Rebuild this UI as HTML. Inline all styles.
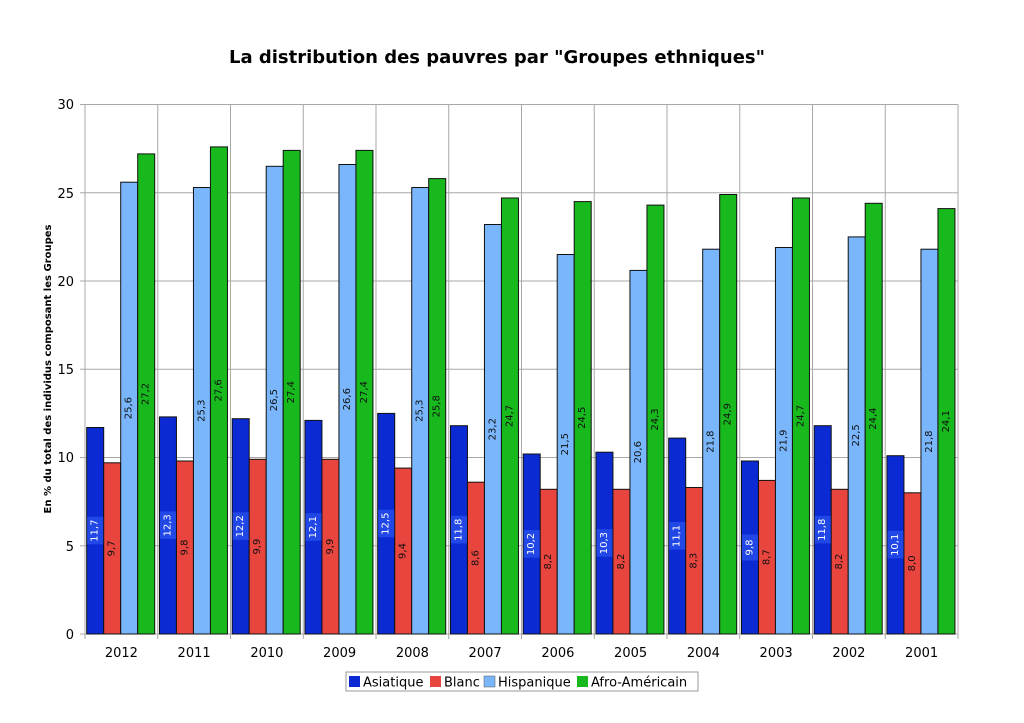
<!DOCTYPE html>
<html><head><meta charset="utf-8"><style>
html,body{margin:0;padding:0;background:#fff;}
svg{display:block;font-family:"DejaVu Sans","Liberation Sans",sans-serif;}
.l{font-size:10px;text-anchor:middle;dominant-baseline:central;}
.w{fill:#fff}
.bk{fill:#111}
.bl{fill:#0b2ad4;stroke:#111;stroke-width:1}
.rd{fill:#e8453f;stroke:#111;stroke-width:1}
.lb{fill:#79b6fb;stroke:#111;stroke-width:1}
.gr{fill:#17b91c;stroke:#111;stroke-width:1}
.lbg{fill:#2148e6}
</style></head><body>
<svg width="1024" height="723" viewBox="0 0 1024 723">
<text x="497" y="63" font-size="18" font-weight="bold" text-anchor="middle" fill="#000">La distribution des pauvres par "Groupes ethniques"</text>
<g stroke="#a8a8a8" stroke-width="1">
<line x1="85" y1="545.75" x2="958" y2="545.75"/><line x1="85" y1="457.5" x2="958" y2="457.5"/><line x1="85" y1="369.25" x2="958" y2="369.25"/><line x1="85" y1="281" x2="958" y2="281"/><line x1="85" y1="192.75" x2="958" y2="192.75"/><line x1="85" y1="104.5" x2="958" y2="104.5"/>
<line x1="157.75" y1="104.5" x2="157.75" y2="634"/><line x1="230.5" y1="104.5" x2="230.5" y2="634"/><line x1="303.25" y1="104.5" x2="303.25" y2="634"/><line x1="376" y1="104.5" x2="376" y2="634"/><line x1="448.75" y1="104.5" x2="448.75" y2="634"/><line x1="521.5" y1="104.5" x2="521.5" y2="634"/><line x1="594.25" y1="104.5" x2="594.25" y2="634"/><line x1="667" y1="104.5" x2="667" y2="634"/><line x1="739.75" y1="104.5" x2="739.75" y2="634"/><line x1="812.5" y1="104.5" x2="812.5" y2="634"/><line x1="885.25" y1="104.5" x2="885.25" y2="634"/><line x1="958" y1="104.5" x2="958" y2="634"/>
<line x1="85" y1="104.5" x2="85" y2="634"/>
<line x1="80" y1="634" x2="958" y2="634"/><line x1="80" y1="545.75" x2="85" y2="545.75"/><line x1="80" y1="457.5" x2="85" y2="457.5"/><line x1="80" y1="369.25" x2="85" y2="369.25"/><line x1="80" y1="281" x2="85" y2="281"/><line x1="80" y1="192.75" x2="85" y2="192.75"/><line x1="80" y1="104.5" x2="85" y2="104.5"/>
<line x1="85" y1="634" x2="85" y2="639"/><line x1="157.75" y1="634" x2="157.75" y2="639"/><line x1="230.5" y1="634" x2="230.5" y2="639"/><line x1="303.25" y1="634" x2="303.25" y2="639"/><line x1="376" y1="634" x2="376" y2="639"/><line x1="448.75" y1="634" x2="448.75" y2="639"/><line x1="521.5" y1="634" x2="521.5" y2="639"/><line x1="594.25" y1="634" x2="594.25" y2="639"/><line x1="667" y1="634" x2="667" y2="639"/><line x1="739.75" y1="634" x2="739.75" y2="639"/><line x1="812.5" y1="634" x2="812.5" y2="639"/><line x1="885.25" y1="634" x2="885.25" y2="639"/><line x1="958" y1="634" x2="958" y2="639"/>
</g>
<g font-size="13" text-anchor="end" fill="#000">
<text x="74" y="639">0</text><text x="74" y="551">5</text><text x="74" y="462">10</text><text x="74" y="374">15</text><text x="74" y="286">20</text><text x="74" y="198">25</text><text x="74" y="109">30</text>
</g>
<text transform="translate(51,369) rotate(-90)" font-size="10" font-weight="bold" text-anchor="middle" fill="#000">En % du total des individus composant les Groupes</text>
<g font-size="13" text-anchor="middle" fill="#000">
<text x="121.4" y="657">2012</text><text x="194.1" y="657">2011</text><text x="266.9" y="657">2010</text><text x="339.6" y="657">2009</text><text x="412.4" y="657">2008</text><text x="485.1" y="657">2007</text><text x="557.9" y="657">2006</text><text x="630.6" y="657">2005</text><text x="703.4" y="657">2004</text><text x="776.1" y="657">2003</text><text x="848.9" y="657">2002</text><text x="921.6" y="657">2001</text>
</g>

<g transform="translate(86.7,634)">
<rect class="bl" x="0" y="-206.5" width="17" height="206.5"/><rect class="rd" x="17" y="-171.2" width="17" height="171.2"/><rect class="lb" x="34" y="-451.8" width="17" height="451.8"/><rect class="gr" x="51" y="-480.1" width="17" height="480.1"/>
<rect class="lbg" x="0.5" y="-117.3" width="16" height="27.6"/>
<text class="l w" transform="translate(8.5,-103.3) rotate(-90)">11,7</text><text class="l bk" transform="translate(25.5,-85.6) rotate(-90)">9,7</text><text class="l bk" transform="translate(42.5,-225.9) rotate(-90)">25,6</text><text class="l bk" transform="translate(59.5,-240) rotate(-90)">27,2</text>
</g>
<g transform="translate(159.45,634)">
<rect class="bl" x="0" y="-217.1" width="17" height="217.1"/><rect class="rd" x="17" y="-173" width="17" height="173"/><rect class="lb" x="34" y="-446.5" width="17" height="446.5"/><rect class="gr" x="51" y="-487.1" width="17" height="487.1"/>
<rect class="lbg" x="0.5" y="-122.6" width="16" height="27.6"/>
<text class="l w" transform="translate(8.5,-108.6) rotate(-90)">12,3</text><text class="l bk" transform="translate(25.5,-86.5) rotate(-90)">9,8</text><text class="l bk" transform="translate(42.5,-223.3) rotate(-90)">25,3</text><text class="l bk" transform="translate(59.5,-243.6) rotate(-90)">27,6</text>
</g>
<g transform="translate(232.2,634)">
<rect class="bl" x="0" y="-215.3" width="17" height="215.3"/><rect class="rd" x="17" y="-174.7" width="17" height="174.7"/><rect class="lb" x="34" y="-467.7" width="17" height="467.7"/><rect class="gr" x="51" y="-483.6" width="17" height="483.6"/>
<rect class="lbg" x="0.5" y="-121.7" width="16" height="27.6"/>
<text class="l w" transform="translate(8.5,-107.7) rotate(-90)">12,2</text><text class="l bk" transform="translate(25.5,-87.4) rotate(-90)">9,9</text><text class="l bk" transform="translate(42.5,-233.9) rotate(-90)">26,5</text><text class="l bk" transform="translate(59.5,-241.8) rotate(-90)">27,4</text>
</g>
<g transform="translate(304.95,634)">
<rect class="bl" x="0" y="-213.6" width="17" height="213.6"/><rect class="rd" x="17" y="-174.7" width="17" height="174.7"/><rect class="lb" x="34" y="-469.5" width="17" height="469.5"/><rect class="gr" x="51" y="-483.6" width="17" height="483.6"/>
<rect class="lbg" x="0.5" y="-120.8" width="16" height="27.6"/>
<text class="l w" transform="translate(8.5,-106.8) rotate(-90)">12,1</text><text class="l bk" transform="translate(25.5,-87.4) rotate(-90)">9,9</text><text class="l bk" transform="translate(42.5,-234.8) rotate(-90)">26,6</text><text class="l bk" transform="translate(59.5,-241.8) rotate(-90)">27,4</text>
</g>
<g transform="translate(377.7,634)">
<rect class="bl" x="0" y="-220.6" width="17" height="220.6"/><rect class="rd" x="17" y="-165.9" width="17" height="165.9"/><rect class="lb" x="34" y="-446.5" width="17" height="446.5"/><rect class="gr" x="51" y="-455.4" width="17" height="455.4"/>
<rect class="lbg" x="0.5" y="-124.3" width="16" height="27.6"/>
<text class="l w" transform="translate(8.5,-110.3) rotate(-90)">12,5</text><text class="l bk" transform="translate(25.5,-83) rotate(-90)">9,4</text><text class="l bk" transform="translate(42.5,-223.3) rotate(-90)">25,3</text><text class="l bk" transform="translate(59.5,-227.7) rotate(-90)">25,8</text>
</g>
<g transform="translate(450.45,634)">
<rect class="bl" x="0" y="-208.3" width="17" height="208.3"/><rect class="rd" x="17" y="-151.8" width="17" height="151.8"/><rect class="lb" x="34" y="-409.5" width="17" height="409.5"/><rect class="gr" x="51" y="-436" width="17" height="436"/>
<rect class="lbg" x="0.5" y="-118.2" width="16" height="27.6"/>
<text class="l w" transform="translate(8.5,-104.2) rotate(-90)">11,8</text><text class="l bk" transform="translate(25.5,-75.9) rotate(-90)">8,6</text><text class="l bk" transform="translate(42.5,-204.8) rotate(-90)">23,2</text><text class="l bk" transform="translate(59.5,-218) rotate(-90)">24,7</text>
</g>
<g transform="translate(523.2,634)">
<rect class="bl" x="0" y="-180" width="17" height="180"/><rect class="rd" x="17" y="-144.7" width="17" height="144.7"/><rect class="lb" x="34" y="-379.5" width="17" height="379.5"/><rect class="gr" x="51" y="-432.4" width="17" height="432.4"/>
<rect class="lbg" x="0.5" y="-104" width="16" height="27.6"/>
<text class="l w" transform="translate(8.5,-90) rotate(-90)">10,2</text><text class="l bk" transform="translate(25.5,-72.4) rotate(-90)">8,2</text><text class="l bk" transform="translate(42.5,-189.8) rotate(-90)">21,5</text><text class="l bk" transform="translate(59.5,-216.2) rotate(-90)">24,5</text>
</g>
<g transform="translate(595.95,634)">
<rect class="bl" x="0" y="-181.8" width="17" height="181.8"/><rect class="rd" x="17" y="-144.7" width="17" height="144.7"/><rect class="lb" x="34" y="-363.6" width="17" height="363.6"/><rect class="gr" x="51" y="-428.9" width="17" height="428.9"/>
<rect class="lbg" x="0.5" y="-104.9" width="16" height="27.6"/>
<text class="l w" transform="translate(8.5,-90.9) rotate(-90)">10,3</text><text class="l bk" transform="translate(25.5,-72.4) rotate(-90)">8,2</text><text class="l bk" transform="translate(42.5,-181.8) rotate(-90)">20,6</text><text class="l bk" transform="translate(59.5,-214.5) rotate(-90)">24,3</text>
</g>
<g transform="translate(668.7,634)">
<rect class="bl" x="0" y="-195.9" width="17" height="195.9"/><rect class="rd" x="17" y="-146.5" width="17" height="146.5"/><rect class="lb" x="34" y="-384.8" width="17" height="384.8"/><rect class="gr" x="51" y="-439.5" width="17" height="439.5"/>
<rect class="lbg" x="0.5" y="-112" width="16" height="27.6"/>
<text class="l w" transform="translate(8.5,-98) rotate(-90)">11,1</text><text class="l bk" transform="translate(25.5,-73.3) rotate(-90)">8,3</text><text class="l bk" transform="translate(42.5,-192.4) rotate(-90)">21,8</text><text class="l bk" transform="translate(59.5,-219.8) rotate(-90)">24,9</text>
</g>
<g transform="translate(741.45,634)">
<rect class="bl" x="0" y="-173" width="17" height="173"/><rect class="rd" x="17" y="-153.6" width="17" height="153.6"/><rect class="lb" x="34" y="-386.5" width="17" height="386.5"/><rect class="gr" x="51" y="-436" width="17" height="436"/>
<rect class="lbg" x="0.5" y="-99.5" width="16" height="26"/>
<text class="l w" transform="translate(8.5,-86.5) rotate(-90)">9,8</text><text class="l bk" transform="translate(25.5,-76.8) rotate(-90)">8,7</text><text class="l bk" transform="translate(42.5,-193.3) rotate(-90)">21,9</text><text class="l bk" transform="translate(59.5,-218) rotate(-90)">24,7</text>
</g>
<g transform="translate(814.2,634)">
<rect class="bl" x="0" y="-208.3" width="17" height="208.3"/><rect class="rd" x="17" y="-144.7" width="17" height="144.7"/><rect class="lb" x="34" y="-397.1" width="17" height="397.1"/><rect class="gr" x="51" y="-430.7" width="17" height="430.7"/>
<rect class="lbg" x="0.5" y="-118.2" width="16" height="27.6"/>
<text class="l w" transform="translate(8.5,-104.2) rotate(-90)">11,8</text><text class="l bk" transform="translate(25.5,-72.4) rotate(-90)">8,2</text><text class="l bk" transform="translate(42.5,-198.6) rotate(-90)">22,5</text><text class="l bk" transform="translate(59.5,-215.4) rotate(-90)">24,4</text>
</g>
<g transform="translate(886.95,634)">
<rect class="bl" x="0" y="-178.3" width="17" height="178.3"/><rect class="rd" x="17" y="-141.2" width="17" height="141.2"/><rect class="lb" x="34" y="-384.8" width="17" height="384.8"/><rect class="gr" x="51" y="-425.4" width="17" height="425.4"/>
<rect class="lbg" x="0.5" y="-103.2" width="16" height="27.6"/>
<text class="l w" transform="translate(8.5,-89.2) rotate(-90)">10,1</text><text class="l bk" transform="translate(25.5,-70.6) rotate(-90)">8,0</text><text class="l bk" transform="translate(42.5,-192.4) rotate(-90)">21,8</text><text class="l bk" transform="translate(59.5,-212.7) rotate(-90)">24,1</text>
</g>

<rect x="346" y="672" width="352" height="19" fill="#fff" stroke="#999"/>
<rect x="349" y="676" width="11" height="11" fill="#0b2ad4"/>
<text x="363" y="686.5" font-size="13" fill="#000">Asiatique</text>
<rect x="430" y="676" width="11" height="11" fill="#e8453f"/>
<text x="444" y="686.5" font-size="13" fill="#000">Blanc</text>
<rect x="484" y="676" width="11" height="11" fill="#79b6fb" stroke="#555" stroke-width="0.5"/>
<text x="498" y="686.5" font-size="13" fill="#000">Hispanique</text>
<rect x="577" y="676" width="11" height="11" fill="#17b91c"/>
<text x="591" y="686.5" font-size="13" fill="#000">Afro-Américain</text>
</svg>
</body></html>
